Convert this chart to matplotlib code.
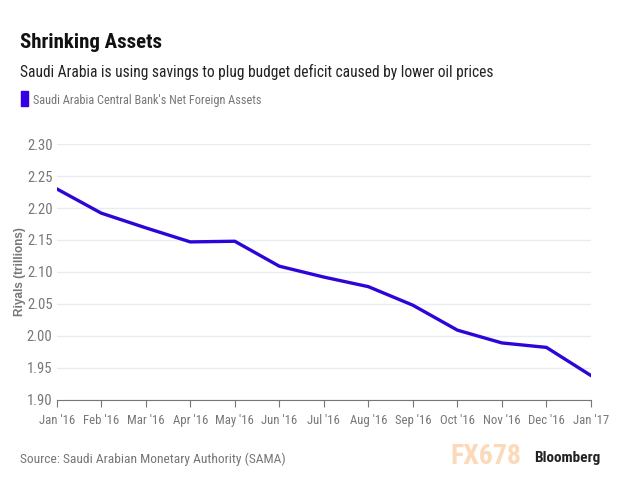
import matplotlib
matplotlib.use("Agg")
import matplotlib.pyplot as plt

months = ["Jan '16", "Feb '16", "Mar '16", "Apr '16", "May '16", "Jun '16", "Jul '16",
          "Aug '16", "Sep '16", "Oct '16", "Nov '16", "Dec '16", "Jan '17"]
assets = [2.230, 2.192, 2.169, 2.147, 2.148, 2.109, 2.092, 2.077, 2.048, 2.009, 1.989, 1.982, 1.938]
yticks = [1.90, 1.95, 2.00, 2.05, 2.10, 2.15, 2.20, 2.25, 2.30]

plt.rcParams['font.family'] = ['Roboto Condensed', 'DejaVu Sans']

line_color = '#2d05d8'
grey = '#777777'

fig = plt.figure(figsize=(6.3, 4.9), dpi=100)
ax = fig.add_axes([0.09, 0.184, 0.848, 0.522])

x = list(range(len(months)))
ax.plot(x, assets, color=line_color, lw=2.4)

ax.set_xlim(0, len(months) - 1)
ax.set_ylim(1.90, 2.30)
ax.set_yticks(yticks)
ax.set_yticklabels([f"{v:.2f}" for v in yticks], fontsize=10.5, color=grey)
ax.set_xticks(x)
ax.set_xticklabels(months, fontsize=9.2, color=grey)
ax.tick_params(axis='y', length=0, pad=3)
ax.tick_params(axis='x', length=5, color=grey, pad=5, direction='out')
ax.grid(axis='y', color='#e8edf3', lw=1)
ax.set_axisbelow(True)
for s in ['top', 'right', 'left']:
    ax.spines[s].set_visible(False)
ax.spines['bottom'].set_color(grey)
ax.set_ylabel("Riyals (trillions)", fontsize=8.5, color=grey, fontweight='bold',
              family='Liberation Sans', labelpad=0.5)

fig.text(0.032, 0.903, "Shrinking Assets", fontsize=15, fontweight='bold', color='#111111')
fig.text(0.032, 0.843, "Saudi Arabia is using savings to plug budget deficit caused by lower oil prices",
         fontsize=11.2, color='#222222')
fig.patches.append(plt.Rectangle((0.033, 0.783), 0.011, 0.032, transform=fig.transFigure,
                                 color='#3300e6'))
fig.text(0.052, 0.787, "Saudi Arabia Central Bank's Net Foreign Assets", fontsize=8.8, color=grey)
fig.text(0.032, 0.055, "Source: Saudi Arabian Monetary Authority (SAMA)", fontsize=9.7, color=grey)
fig.text(0.715, 0.053, "FX678", fontsize=20, fontweight='bold', color='#fcd9b8')
fig.text(0.848, 0.058, "Bloomberg", fontsize=11, fontweight='bold', color='#222222')

fig.savefig("out.png", dpi=100)
